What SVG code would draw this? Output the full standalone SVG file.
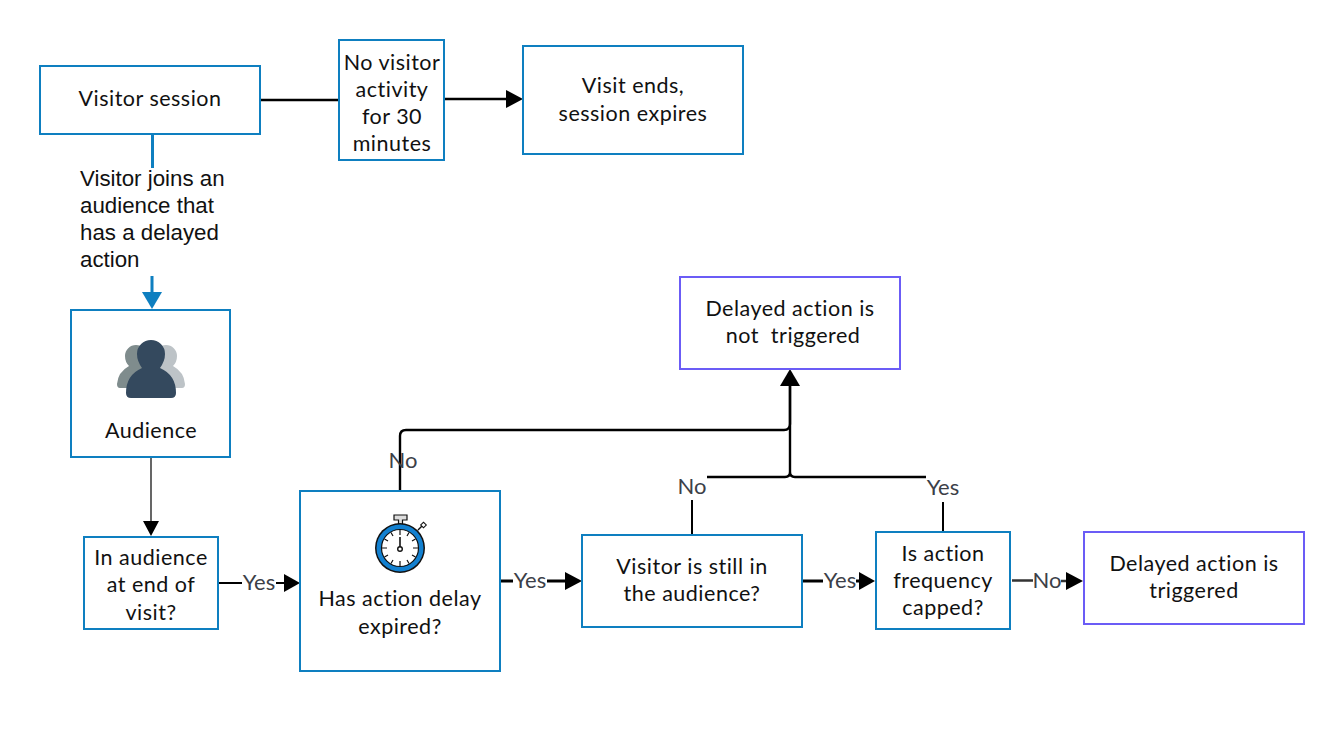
<svg xmlns="http://www.w3.org/2000/svg" width="1344" height="752" viewBox="0 0 1344 752">
<style>
.b{fill:#fff;stroke:#0e7fc0;stroke-width:2}
.p{fill:#fff;stroke:#6b5cf6;stroke-width:2}
.t{font-family:"Lato","Liberation Sans",sans-serif;font-size:21.5px;fill:#111;text-anchor:middle;letter-spacing:.5px;white-space:pre}
.l{font-family:"Lato","Liberation Sans",sans-serif;font-size:22px;fill:#3c4048;text-anchor:middle}
.a{font-family:"Liberation Sans",sans-serif;font-size:22.300px;fill:#111}
.c{fill:none;stroke:#000;stroke-width:2.400}
.h{fill:#000;stroke:none}
.cb{fill:none;stroke:#0e7fc0;stroke-width:3}
</style>
<g id="connectors">
<path class="cb" d="M152.500 135V168M152 276V294"/>
<path d="M142 292H162L152 309Z" fill="#0e7fc0"/>
<path class="c" d="M261 100H338"/>
<path class="c" d="M445 99H507"/>
<path class="h" d="M506 90L523 99L506 108Z"/>
<path class="c" style="stroke-width:1.200" d="M151 458V522"/>
<path class="h" d="M143 521H159L151 536Z"/>
<path class="c" style="stroke-width:2" d="M219 583H242M276 583H285"/>
<path class="h" d="M284 574L300 583L284 592Z"/>
<path class="c" style="stroke-width:2.800" d="M501 581H513M547 581H566"/>
<path class="h" d="M565 572L582 581L565 590Z"/>
<path class="c" style="stroke-width:2.800" d="M803 581H823M856 581H860"/>
<path class="h" d="M859 572L875 581L859 590Z"/>
<path class="c" style="stroke:#333;stroke-width:2.400" d="M1012 580.500H1033M1061 581H1067"/>
<path class="h" d="M1066 572L1083 581L1066 590Z"/>
<path class="c" d="M400 490V436Q400 430 406 430H784Q790 430 790 424V385"/>
<path class="c" d="M707 477H785Q790 477 790 472V385M926 477H795Q790 477 790 472"/>
<path class="h" d="M780 386L790 369L800 386Z"/>
<path class="c" style="stroke-width:2" d="M692 500V534M943 502V531"/>
</g>
<g id="n-session"><rect class="b" x="40" y="66" width="220" height="68"/><text class="t" x="150" y="106">Visitor session</text></g>
<g id="n-inactive"><rect class="b" x="339" y="40" width="105" height="120"/>
<text class="t" x="392" y="70">No visitor</text><text class="t" x="392" y="97">activity</text><text class="t" x="392" y="124">for 30</text><text class="t" x="392" y="151">minutes</text></g>
<g id="n-expires"><rect class="b" x="523" y="46" width="220" height="108"/><text class="t" x="633" y="93">Visit ends,</text><text class="t" x="633" y="121">session expires</text></g>
<g id="n-joinlabel"><text class="a" x="80" y="186">Visitor joins an</text><text class="a" x="80" y="213">audience that</text><text class="a" x="80" y="240">has a delayed</text><text class="a" x="80" y="267">action</text></g>
<g id="n-audience"><rect class="b" x="71" y="310" width="159" height="147"/>
<path d="M117 384Q118 372 129 366Q125 362 125 356A11 11 0 0 1 147 356Q147 362 143 367L150 388H120Q117 388 117 384Z" fill="#7f8c8d"/>
<path d="M185 384Q184 372 173 366Q177 362 177 356A11 11 0 0 0 155 356Q155 362 159 367L152 388H182Q185 388 185 384Z" fill="#bdc3c7"/>
<path d="M126 393Q126 375 142 368Q137 361 137 354A14 14 0 0 1 165 354Q165 361 160 368Q176 375 176 393Q176 398 171 398H131Q126 398 126 393Z" fill="#34495e"/>
<text class="t" x="151" y="438">Audience</text></g>
<g id="n-inaudience"><rect class="b" x="84" y="537" width="134" height="92"/><text class="t" x="151" y="565">In audience</text><text class="t" x="151" y="592">at end of</text><text class="t" x="151" y="620">visit?</text></g>
<g id="n-delay"><rect class="b" x="300" y="491" width="200" height="180"/>
<g>
<path d="M394 515H407V520H402.500V526H398.500V520H394Z" fill="#ddd" stroke="#111" stroke-width="1.200"/>
<path d="M418 530L424 524" stroke="#111" stroke-width="1.500"/><rect x="421.500" y="523" width="4" height="4" transform="rotate(45 423.500 525)" fill="#fff" stroke="#111"/>
<circle cx="400" cy="548" r="25" fill="#111"/><circle cx="400" cy="548" r="23.500" fill="#1280d0"/><circle cx="400" cy="548" r="18.500" fill="#fff" stroke="#111" stroke-width="1.200"/>
<path d="M400 530V535M400 561V566M382 548H387M413 548H418M391 532.500L393 536M409 532.500L407 536M391 563.500L393 560M409 563.500L407 560M384.500 539L388 541M415.500 539L412 541M384.500 557L388 555M415.500 557L412 555" stroke="#111" stroke-width="1.200"/>
<path d="M400 537V547" stroke="#111" stroke-width="1.600"/><circle cx="400" cy="549" r="2.300" fill="#fff" stroke="#111" stroke-width="1.400"/>
</g>
<text class="t" x="400" y="606">Has action delay</text><text class="t" x="400" y="634">expired?</text></g>
<g id="n-still"><rect class="b" x="582" y="535" width="220" height="92"/><text class="t" x="692" y="574">Visitor is still in</text><text class="t" x="692" y="601">the audience?</text></g>
<g id="n-capped"><rect class="b" x="876" y="532" width="134" height="97"/><text class="t" x="943" y="561">Is action</text><text class="t" x="943" y="588">frequency</text><text class="t" x="943" y="615">capped?</text></g>
<g id="n-triggered"><rect class="p" x="1084" y="532" width="220" height="92"/><text class="t" x="1194" y="571">Delayed action is</text><text class="t" x="1194" y="598">triggered</text></g>
<g id="n-nottriggered"><rect class="p" x="680" y="277" width="220" height="92"/><text class="t" x="790" y="316">Delayed action is</text><text class="t" x="793" y="343">not  triggered</text></g>
<g id="labels">
<text class="l" x="259" y="590">Yes</text><text class="l" x="403" y="468">No</text><text class="l" x="530" y="588">Yes</text><text class="l" x="692" y="494">No</text><text class="l" x="943" y="495">Yes</text><text class="l" x="840" y="588">Yes</text><text class="l" x="1047" y="588">No</text>
</g>
</svg>
